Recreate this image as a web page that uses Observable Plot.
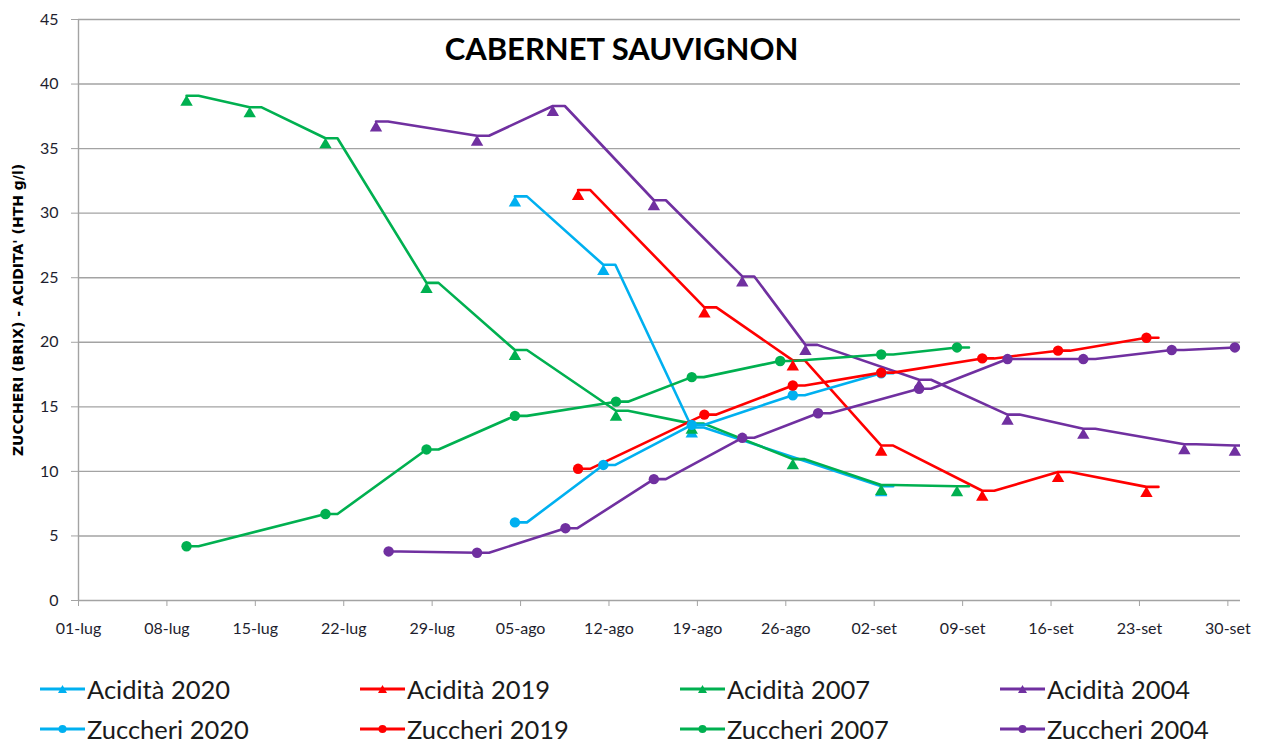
<!DOCTYPE html>
<html>
<head>
<meta charset="utf-8">
<script src="https://cdn.jsdelivr.net/npm/d3@7"></script>
<script src="https://cdn.jsdelivr.net/npm/@observablehq/plot@0.6"></script>
<style>
  body { margin: 0; background: #fff; overflow: hidden; }
  #wrap { position: relative; width: 1265px; height: 742px; font-family: Lato, "Open Sans", sans-serif; }
  #legend { position: absolute; left: 0; top: 0; width: 1265px; }
  .item { position: absolute; display: flex; align-items: center; font-size: 25.5px; line-height: 26px; height: 26px; color: #1a1a1a; white-space: nowrap; }
  .item svg { margin-right: 2px; }
</style>
</head>
<body>
<div id="wrap"><div id="chart"></div><div id="legend"></div></div>
<script>
// ---- data ----
const title = "CABERNET SAUVIGNON";
const yLabel = "ZUCCHERI (BRIX) - ACIDITA' (HTH g/l)";
const xTickDates = ["2020-07-01","2020-07-08","2020-07-15","2020-07-22","2020-07-29","2020-08-05","2020-08-12",
  "2020-08-19","2020-08-26","2020-09-02","2020-09-09","2020-09-16","2020-09-23","2020-09-30"];
const monthNames = ["gen","feb","mar","apr","mag","giu","lug","ago","set","ott","nov","dic"];
const yTicks = [0,5,10,15,20,25,30,35,40,45];

const acid2020Dates = ["2020-08-04","2020-08-11","2020-08-18","2020-09-02"];
const acid2020Values = [31.3, 26.0, 13.4, 8.85];
const zucc2020Dates = ["2020-08-04","2020-08-11","2020-08-18","2020-08-26","2020-09-02"];
const zucc2020Values = [6.05, 10.5, 13.6, 15.9, 17.6];

const acid2019Dates = ["2020-08-09","2020-08-19","2020-08-26","2020-09-02","2020-09-10","2020-09-16","2020-09-23"];
const acid2019Values = [31.8, 22.7, 18.6, 12.0, 8.5, 9.95, 8.8];
const zucc2019Dates = ["2020-08-09","2020-08-19","2020-08-26","2020-09-02","2020-09-10","2020-09-16","2020-09-23"];
const zucc2019Values = [10.2, 14.4, 16.65, 17.65, 18.75, 19.35, 20.35];

const acid2007Dates = ["2020-07-09","2020-07-14","2020-07-20","2020-07-28","2020-08-04","2020-08-12","2020-08-18","2020-08-26","2020-09-02","2020-09-08"];
const acid2007Values = [39.1, 38.2, 35.8, 24.6, 19.4, 14.7, 13.7, 10.95, 8.95, 8.85];
const zucc2007Dates = ["2020-07-09","2020-07-20","2020-07-28","2020-08-04","2020-08-12","2020-08-18","2020-08-25","2020-09-02","2020-09-08"];
const zucc2007Values = [4.2, 6.7, 11.7, 14.3, 15.4, 17.3, 18.55, 19.05, 19.6];

const acid2004Dates = ["2020-07-24","2020-08-01","2020-08-07","2020-08-15","2020-08-22","2020-08-27","2020-09-05","2020-09-12","2020-09-18","2020-09-26","2020-09-30"];
const acid2004Values = [37.1, 36.0, 38.3, 31.0, 25.1, 19.8, 17.1, 14.4, 13.3, 12.1, 12.0];
const zucc2004Dates = ["2020-07-25","2020-08-01","2020-08-08","2020-08-15","2020-08-22","2020-08-28","2020-09-05","2020-09-12","2020-09-18","2020-09-25","2020-09-30"];
const zucc2004Values = [3.8, 3.7, 5.6, 9.4, 12.6, 14.5, 16.4, 18.7, 18.7, 19.4, 19.6];

const seriesNames = ["Acidità 2020","Acidità 2019","Acidità 2007","Acidità 2004",
                     "Zuccheri 2020","Zuccheri 2019","Zuccheri 2007","Zuccheri 2004"];
const seriesColors = ["#00B0F0","#FF0000","#00B050","#7030A0","#00B0F0","#FF0000","#00B050","#7030A0"];
const seriesDates = [acid2020Dates, acid2019Dates, acid2007Dates, acid2004Dates, zucc2020Dates, zucc2019Dates, zucc2007Dates, zucc2004Dates];
const seriesValues = [acid2020Values, acid2019Values, acid2007Values, acid2004Values, zucc2020Values, zucc2019Values, zucc2007Values, zucc2004Values];

// ---- build ----
const parse = d3.utcParse("%Y-%m-%d");
const series = seriesNames.map((name, i) => ({
  name, color: seriesColors[i], kind: name.startsWith("Acid") ? "tri" : "dot",
  data: seriesDates[i].map((d, j) => ({date: parse(d), value: seriesValues[i][j]}))
}));

// line style: each vertex drawn with a short horizontal run (as in the original rendering)
function tailCurve(context) {
  let first = true;
  return {
    areaStart() {}, areaEnd() {},
    lineStart() { first = true; },
    lineEnd() {},
    point(x, y) {
      x = +x; y = +y;
      if (first) { context.moveTo(x, y); first = false; } else context.lineTo(x, y);
      context.lineTo(x + 12, y);
    }
  };
}

const fmt = d => d3.utcFormat("%d")(d) + "-" + monthNames[d.getUTCMonth()];
const DX = 7;
const marks = [
  Plot.gridY(yTicks.filter(t => t > 0), {stroke: "#a3a3a3", strokeOpacity: 1, strokeWidth: 1.4}),
  Plot.ruleY([0], {stroke: "#a3a3a3", strokeWidth: 1.4}),
  Plot.ruleX([parse("2020-07-01")], {stroke: "#a3a3a3", strokeWidth: 1.4}),
  Plot.axisY({ticks: yTicks, tickSize: 7, tickPadding: 13, fontSize: 16, stroke: "#a3a3a3", fill: "#1e1e2e", tickFormat: d => d, label: null}),
  Plot.axisX({ticks: xTickDates.map(parse), tickFormat: fmt, tickSize: 6, tickPadding: 16, fontSize: 16, stroke: "#a3a3a3", fill: "#1e1e2e", label: null}),
];
for (const s of series) {
  marks.push(Plot.line(s.data, {x: "date", y: "value", stroke: s.color, strokeWidth: 2.6, curve: tailCurve, dx: DX, clip: true}));
}
for (const s of series) {
  if (s.kind === "tri") {
    marks.push(Plot.dot(s.data, {x: "date", y: "value", symbol: "triangle", r: 4.6, fill: s.color, stroke: "none", dx: DX, dy: 6.5}));
  } else {
    marks.push(Plot.dot(s.data, {x: "date", y: "value", symbol: "circle", r: 5.2, fill: s.color, stroke: "none", dx: DX}));
  }
}
marks.push(Plot.text([title], {frameAnchor: "top", dx: -38, dy: 18, fontSize: 31, fontWeight: "bold", fill: "#000", text: d => d}));
marks.push(Plot.text([yLabel], {frameAnchor: "left", textAnchor: "middle", rotate: -90, dx: -60, fontSize: 14, fontWeight: "bold", fontFamily: "DejaVu Sans", fill: "#000", text: d => d}));

const chart = Plot.plot({
  width: 1265, height: 650,
  marginLeft: 78, marginRight: 25, marginTop: 19, marginBottom: 50,
  style: {fontFamily: "Lato, 'Open Sans', sans-serif", background: "#fff", overflow: "visible"},
  x: {type: "utc", domain: [parse("2020-07-01"), parse("2020-10-01")]},
  y: {domain: [0, 45]},
  marks
});
document.getElementById("chart").appendChild(chart);

// ---- legend ----
const legend = document.getElementById("legend");
const colX = [40, 360, 680, 1000];
const rowY = [676, 716];
series.forEach((s, i) => {
  const col = i % 4, row = Math.floor(i / 4);
  const div = document.createElement("div");
  div.className = "item";
  div.style.left = colX[col] + "px";
  div.style.top = rowY[row] + "px";
  const mk = s.kind === "tri"
    ? `<path d="M22.5,9 L27,17 L18,17 Z" fill="${s.color}"/>`
    : `<circle cx="22.5" cy="13" r="4" fill="${s.color}"/>`;
  div.innerHTML = `<svg width="45" height="26"><line x1="0" y1="13" x2="45" y2="13" stroke="${s.color}" stroke-width="3"/>${mk}</svg><span>${s.name}</span>`;
  legend.appendChild(div);
});
</script>
</body>
</html>
